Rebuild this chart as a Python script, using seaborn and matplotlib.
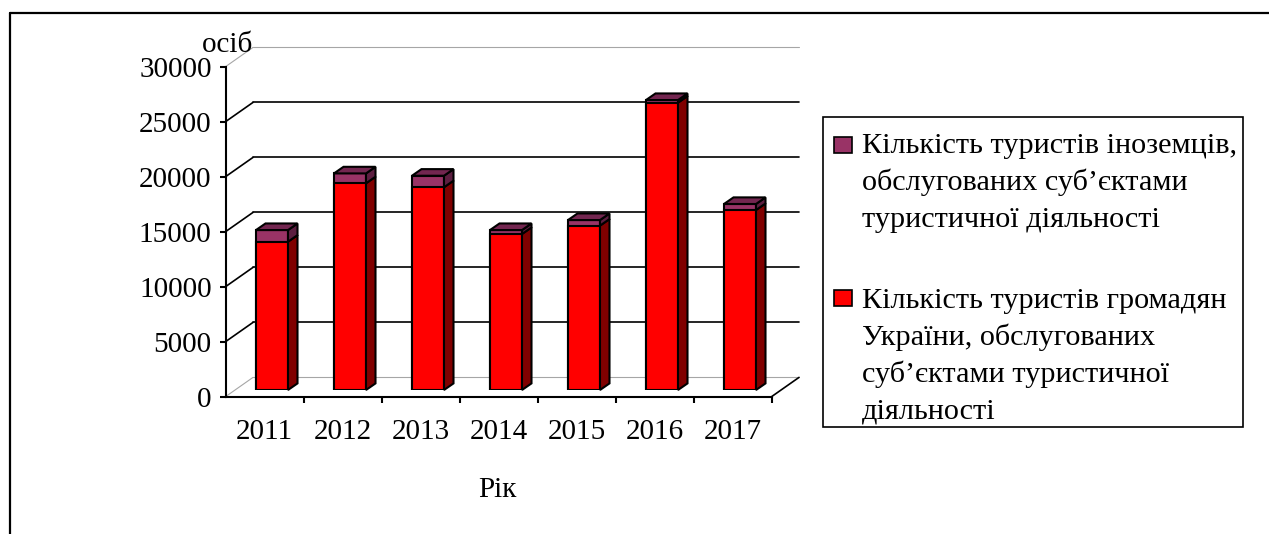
import numpy as np
import pandas as pd
import matplotlib
matplotlib.use("Agg")
import matplotlib.pyplot as plt
import seaborn as sns
from matplotlib.patches import Polygon, Rectangle
from matplotlib.lines import Line2D

# ---------------- data ----------------
years = ["2011", "2012", "2013", "2014", "2015", "2016", "2017"]
domestic = [13480, 18790, 18430, 14180, 14940, 26120, 16360]   # громадяни України
foreign = [1060, 900, 1050, 360, 510, 240, 550]                 # іноземці
y_ticks = [0, 5000, 10000, 15000, 20000, 25000, 30000]
y_unit = "осіб"
x_title = "Рік"
legend_foreign = ["Кількість туристів іноземців,",
                  "обслугованих суб’єктами",
                  "туристичної діяльності"]
legend_domestic = ["Кількість туристів громадян",
                   "України, обслугованих",
                   "суб’єктами туристичної",
                   "діяльності"]

# ---------------- style ----------------
sns.set_style("white")
plt.rcParams["font.family"] = ["Liberation Serif", "DejaVu Serif"]
plt.rcParams["text.color"] = "black"
plt.rcParams["axes.labelcolor"] = "black"
plt.rcParams["xtick.color"] = "black"
plt.rcParams["ytick.color"] = "black"
FS = 21
FS_LEG = 21.8

W, H, DPI = 1269, 534, 100
fig = plt.figure(figsize=(W / DPI, H / DPI), dpi=DPI)
fig.patch.set_facecolor("white")

PURPLE = "#993366"
PURPLE_TOP = "#732650"
PURPLE_SIDE = "#5c1e40"
RED = "#ff0000"
RED_SIDE = "#800000"
GREY = "#a6a6a6"

n = len(years)
ymax = y_ticks[-1]
plot_w, plot_h = 546, 330          # pixels of the plot area
front_left, front_bottom = 225.5, H - 396.7
bar_dx, bar_dy = 7.5, 6.7          # bar plane behind front axis (px)
wall_dx, wall_dy = 27.5, 19.3      # back wall behind front axis (px)

def px_axes(left, bottom):
    return fig.add_axes([left / W, bottom / H, plot_w / W, plot_h / H])

ax_back = px_axes(front_left + wall_dx, front_bottom + wall_dy)
ax = px_axes(front_left + bar_dx, front_bottom + bar_dy)
ax_front = px_axes(front_left, front_bottom)
ax_back.set_zorder(0)
ax.set_zorder(2)
ax_front.set_zorder(3)
for a in (ax_back, ax, ax_front):
    a.set_xlim(-0.5, n - 0.5)
    a.set_ylim(0, ymax)
    a.patch.set_alpha(0)

# back wall gridlines
for v in y_ticks:
    edge = v in (y_ticks[0], y_ticks[-1])
    ax_back.axhline(v, color=GREY if edge else "black",
                    lw=0.8 if edge else 1.2, clip_on=False)
ax_back.axis("off")

# bars (front faces) via seaborn
df = pd.DataFrame({"year": years,
                   "domestic": domestic,
                   "total": np.array(domestic) + np.array(foreign)})
bw = 32 / 78
sns.barplot(data=df, x="year", y="total", color=PURPLE, saturation=1,
            width=bw, edgecolor="black", linewidth=1.5, errorbar=None, ax=ax)
sns.barplot(data=df, x="year", y="domestic", color=RED, saturation=1,
            width=bw, edgecolor="black", linewidth=1.5, errorbar=None, ax=ax)
ax.set_xlim(-0.5, n - 0.5)
ax.set_ylim(0, ymax)
ax.axis("off")

# 3-D side and top faces derived from the bar patches
ddx = 9.5 / (plot_w / n)
ddy = 6.6 * ymax / plot_h
tot_bars = ax.containers[0].patches
dom_bars = ax.containers[1].patches
for pt, pr in zip(tot_bars, dom_bars):
    x0 = pt.get_x()
    x1 = x0 + pt.get_width()
    top = pt.get_height()
    red = pr.get_height()
    faces = [
        ([(x1, 0), (x1, red), (x1 + ddx, red + ddy), (x1 + ddx, ddy)], RED_SIDE),
        ([(x1, red), (x1, top), (x1 + ddx, top + ddy), (x1 + ddx, red + ddy)], PURPLE_SIDE),
        ([(x0, top), (x1, top), (x1 + ddx, top + ddy), (x0 + ddx, top + ddy)], PURPLE_TOP),
    ]
    for verts, c in faces:
        ax.add_patch(Polygon(verts, closed=True, facecolor=c, edgecolor="black",
                             lw=1.5, clip_on=False, zorder=3))

# front axis
for s in ("top", "right"):
    ax_front.spines[s].set_visible(False)
for s in ("left", "bottom"):
    ax_front.spines[s].set_linewidth(1.5)
    ax_front.spines[s].set_color("black")
ax_front.set_yticks(y_ticks)
ax_front.set_yticklabels([str(v) for v in y_ticks], fontsize=FS)
ax_front.tick_params(axis="y", direction="out", length=4, width=1.5, pad=6,
                     left=True, colors="black")
ax_front.set_xticks(np.arange(n) + 0.5)
ax_front.set_xticklabels([])
ax_front.set_xticks(np.arange(n), minor=True)
ax_front.set_xticklabels(years, minor=True, fontsize=FS)
ax_front.tick_params(axis="x", which="major", direction="out", length=4,
                     width=1.5, bottom=True, colors="black")
ax_front.tick_params(axis="x", which="minor", length=0, pad=16, colors="black")
ax_front.grid(False)

# connectors between front axis and back wall
ftf = fig.transFigure.inverted()
def link(xd, v, color, lw):
    p0 = ftf.transform(ax_front.transData.transform((xd, v)))
    p1 = ftf.transform(ax_back.transData.transform((xd, v)))
    fig.add_artist(Line2D([p0[0], p1[0]], [p0[1], p1[1]], color=color, lw=lw,
                          transform=fig.transFigure, zorder=1))
for v in y_ticks:
    edge = v in (y_ticks[0], y_ticks[-1])
    link(-0.5, v, GREY if edge else "black", 0.8 if edge else 1.2)
link(n - 0.5, 0, "black", 1.2)

# axis labels
fig.text(228 / W, 1 - 52 / H, y_unit, ha="center", va="baseline", fontsize=FS,
         color="black")
fig.text(497.5 / W, 1 - 497 / H, x_title, ha="center", va="baseline", fontsize=FS,
         color="black")

# legend (drawn as box, keys and text lines)
fig.add_artist(Rectangle((823 / W, 1 - 427 / H), (1243 - 823) / W, (427 - 117) / H,
                         transform=fig.transFigure, facecolor="white",
                         edgecolor="black", lw=1.2))
pitch = 37
for lines, color, key_top, base0 in ((legend_foreign, PURPLE, 137, 153),
                                     (legend_domestic, RED, 290, 308)):
    fig.add_artist(Rectangle((834 / W, 1 - (key_top + 16) / H), 18 / W, 16 / H,
                             transform=fig.transFigure, facecolor=color,
                             edgecolor="black", lw=1.2))
    for k, line in enumerate(lines):
        fig.text(862 / W, 1 - (base0 + k * pitch) / H, line, ha="left",
                 va="baseline", fontsize=FS_LEG, color="black")

# outer frame (top and left edges)
fig.add_artist(Line2D([10 / W, 1], [1 - 13 / H, 1 - 13 / H], color="black",
                      lw=1.6, transform=fig.transFigure))
fig.add_artist(Line2D([10 / W, 10 / W], [0, 1 - 13 / H], color="black",
                      lw=1.6, transform=fig.transFigure))

fig.savefig("out.png", dpi=DPI)
